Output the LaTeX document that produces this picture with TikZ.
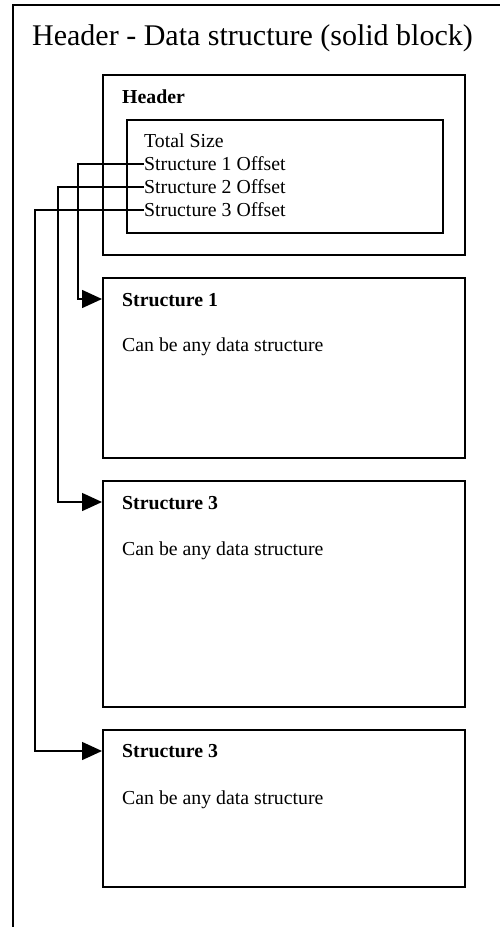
\documentclass[tikz,border=0pt]{standalone}
\usepackage{fontspec}
\setmainfont{Liberation Serif}
\usetikzlibrary{arrows.meta}
\begin{document}
\begin{tikzpicture}[x=1pt,y=-1pt,
  frame/.style={draw=black,line width=1.5pt},
  box/.style={draw=black,line width=1.5pt,rectangle,anchor=north west,inner sep=0pt},
  txt/.style={anchor=base west,inner sep=0pt,font=\fontsize{19.8}{23}\selectfont},
  btxt/.style={anchor=base west,inner sep=0pt,font=\fontsize{19.8}{23}\selectfont\bfseries},
  link/.style={draw=black,line width=1.5pt},
  arr/.style={-{Triangle[length=20pt,width=18pt]}}]
\useasboundingbox (0,0) rectangle (500,927);
% outer frame (open to the right and bottom)
\coordinate (ftr) at (500,5);
\coordinate (ftl) at (13,5);
\coordinate (fbl) at (13,927);
\draw[frame] (ftr) -- (ftl) -- (fbl);
\node[anchor=base west,inner sep=0pt,font=\fontsize{30}{36}\selectfont] (title) at (32,45) {Header - Data structure (solid block)};
% header box
\node[box,minimum width=362pt,minimum height=180pt] (hdr) at (102,74) {};
\node[btxt] (hdrlbl) at (122,103) {Header};
\node[box,minimum width=316pt,minimum height=113pt] (inner) at (126,119) {};
\node[txt] (tot) at (144,147) {Total Size};
\node[txt] (o1) at (144,170) {Structure 1 Offset};
\node[txt] (o2) at (144,193) {Structure 2 Offset};
\node[txt] (o3) at (144,216) {Structure 3 Offset};
% structure boxes
\node[box,minimum width=362pt,minimum height=180pt] (s1) at (102,277) {};
\node[btxt] (s1t) at (122,306) {Structure 1};
\node[txt] (s1d) at (122,351) {Can be any data structure};
\node[box,minimum width=362pt,minimum height=226pt] (s2) at (102,480) {};
\node[btxt] (s2t) at (122,509) {Structure 3};
\node[txt] (s2d) at (122,555) {Can be any data structure};
\node[box,minimum width=362pt,minimum height=157pt] (s3) at (102,729) {};
\node[btxt] (s3t) at (122,757) {Structure 3};
\node[txt] (s3d) at (122,804) {Can be any data structure};
% connectors
\coordinate (e1) at ([yshift=-22pt]s1.north west);
\coordinate (e2) at ([yshift=-22pt]s2.north west);
\coordinate (e3) at ([yshift=-22pt]s3.north west);
\coordinate (k1) at ([yshift=6pt]o1.base west);
\coordinate (k2) at ([yshift=6pt]o2.base west);
\coordinate (k3) at ([yshift=6pt]o3.base west);
\draw[link,arr] (k1) -- (78,164) -- (78,299) -- (e1);
\draw[link,arr] (k2) -- (58,187) -- (58,502) -- (e2);
\draw[link,arr] (k3) -- (35,210) -- (35,751) -- (e3);
\end{tikzpicture}
\end{document}
